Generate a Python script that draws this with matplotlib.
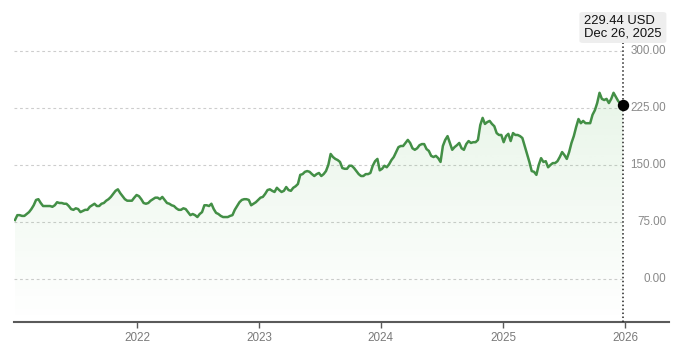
import matplotlib
matplotlib.use("Agg")
import matplotlib.pyplot as plt
import matplotlib.dates as mdates
import matplotlib.transforms as mtransforms
from matplotlib.patches import Polygon, FancyBboxPatch
import numpy as np
import pandas as pd

plt.rcParams["font.family"] = ["Liberation Sans", "DejaVu Sans"]

# Weekly closing prices (USD), Friday closes
dates = pd.date_range("2021-01-01", periods=261, freq="7D")
prices = [
    77.6, 84, 84, 83, 83, 85.5, 88, 92, 97, 104,
    105, 100, 96, 96, 96, 96, 95, 97, 101, 100,
    100, 99, 99, 96, 92, 91, 93, 92, 88, 89.5,
    91, 91, 95, 97, 99, 96, 96, 99, 100, 103,
    105, 108, 112, 116, 118, 113, 109, 105, 103, 103,
    103, 107, 110.5, 109, 105, 100, 99, 100, 103, 105,
    107, 107, 105, 108, 104, 100, 99, 97, 96, 93,
    91, 91, 93, 92, 88, 84, 85.5, 84, 81.5, 85.5,
    88, 97, 97, 96, 99, 92, 87, 85.5, 83, 81.5,
    81.5, 81.5, 83, 84, 91, 96, 101, 104, 105, 105,
    104, 97, 99, 101, 104, 107, 108, 112, 117, 118,
    116, 114.5, 120, 117, 114.5, 116, 121, 117, 116, 120,
    122, 125, 137, 138, 141, 142, 141, 138, 135.5, 138,
    139.5, 135.5, 138, 142, 150, 164.5, 160.5, 158, 156.5, 154,
    146, 145, 145, 149, 149, 146, 142, 138, 135.5, 135.5,
    138, 138, 139.5, 149, 155, 158, 143, 145, 149, 147,
    151, 156.5, 160.5, 167, 173.5, 175, 175, 179, 183, 179,
    172, 170, 172, 176, 177.5, 177.5, 171, 168.5, 162, 160.5,
    162, 159, 154, 175, 183, 188, 179, 170, 173.5, 176,
    179, 172, 170, 177.5, 181.5, 179, 180, 180, 183, 202.6,
    212, 204, 206.5, 208, 204, 201, 192, 189.5, 189.5, 180,
    188, 191, 181.5, 192, 189.5, 189.5, 188, 185.5, 175, 164.5,
    154, 142, 141, 137, 150, 159, 154, 155, 147, 150,
    152.5, 152.5, 155, 160.5, 167, 163, 158, 167, 179, 188,
    200, 210.5, 205, 208, 205, 205, 205, 216, 222, 231.5,
    245, 237, 235.5, 237, 231.5, 237, 245, 239.5, 234, 231,
    229.44,
]
y_ticks = [0, 75, 150, 225, 300]
year_ticks = [2022, 2023, 2024, 2025, 2026]
tooltip_price = "229.44 USD"
tooltip_date = "Dec 26, 2025"

LINE = "#438f46"
W, H = 680, 349

fig = plt.figure(figsize=(W / 100, H / 100), dpi=100)
ax = fig.add_axes([14 / W, 27 / H, 655 / W, 322 / H])
x0, x1 = pd.Timestamp("2020-12-29"), pd.Timestamp("2026-05-13")
y0, y1 = -56.6, 367.1
ax.set_xlim(x0, x1)
ax.set_ylim(y0, y1)

xn = mdates.date2num(dates)
yv = np.asarray(prices, dtype=float)

# horizontal dotted grid stopping at the last observation
ax.hlines(y_ticks, mdates.date2num(x0), xn[-1] - 4, colors="#cdcdcd",
          linestyles=(0, (2.5, 2.5)), linewidth=0.8, zorder=1)

# soft green gradient under the price line
verts = np.column_stack([np.r_[xn, xn[-1], xn[0]], np.r_[yv, y0, y0]])
poly = Polygon(verts, closed=True, facecolor="none", edgecolor="none")
ax.add_patch(poly)
n = 256
grad = np.zeros((n, 1, 4))
grad[:, 0, 0:3] = matplotlib.colors.to_rgb("#5cb85c")
grad[:, 0, 3] = np.linspace(0.0, 0.14, n)
im = ax.imshow(grad, extent=[xn[0], xn[-1], y0, yv.max()], origin="lower",
               aspect="auto", zorder=2, interpolation="bilinear")
im.set_clip_path(poly)

ax.plot(xn, yv, color=LINE, linewidth=1.8, zorder=4, solid_joinstyle="round")

# hover marker at the last point
top_val = (279 - 43) * 75 / 57
ax.vlines(xn[-1], y0, top_val, colors="#222222", linestyles=(0, (1, 1.6)),
          linewidth=1.1, zorder=5, clip_on=False)
ax.plot([xn[-1]], [yv[-1]], "o", color="black", markersize=7.2, zorder=6)

# right-hand value labels
trans = mtransforms.blended_transform_factory(ax.transAxes, ax.transData)
for v in y_ticks:
    ax.text(0.9954, v, f"{v:.2f}", transform=trans, ha="right", va="center",
            color="#8a8a8a", fontsize=8.4)

for s in ["left", "right", "top"]:
    ax.spines[s].set_visible(False)
ax.spines["bottom"].set_color("#5a5a5a")
ax.spines["bottom"].set_linewidth(1.5)
ax.set_yticks([])
ax.set_xticks([pd.Timestamp(f"{y}-01-01") for y in year_ticks])
ax.set_xticklabels([str(y) for y in year_ticks])
ax.tick_params(axis="x", length=4, width=1, color="#5a5a5a",
               labelcolor="#7a7a7a", labelsize=8.4, pad=3.5)
ax.patch.set_alpha(0)

# tooltip box centred on the hover line
px = ax.transData.transform((xn[-1], 0))[0]
bw, bh, btop = 87, 31, 12
box = FancyBboxPatch(((px - bw / 2) / W, 1 - (btop + bh) / H), bw / W, bh / H,
                     boxstyle="round,pad=0,rounding_size=0.006",
                     transform=fig.transFigure, facecolor="#eeeeee",
                     edgecolor="none", zorder=10)
fig.add_artist(box)
fig.text((px - bw / 2 + 5) / W, 1 - 20.5 / H, tooltip_price, ha="left",
         va="center", fontsize=9.4, color="#111111", zorder=11)
fig.text((px - bw / 2 + 5) / W, 1 - 34 / H, tooltip_date, ha="left",
         va="center", fontsize=9.4, color="#111111", zorder=11)

fig.savefig("out.png", dpi=100, facecolor="white")
